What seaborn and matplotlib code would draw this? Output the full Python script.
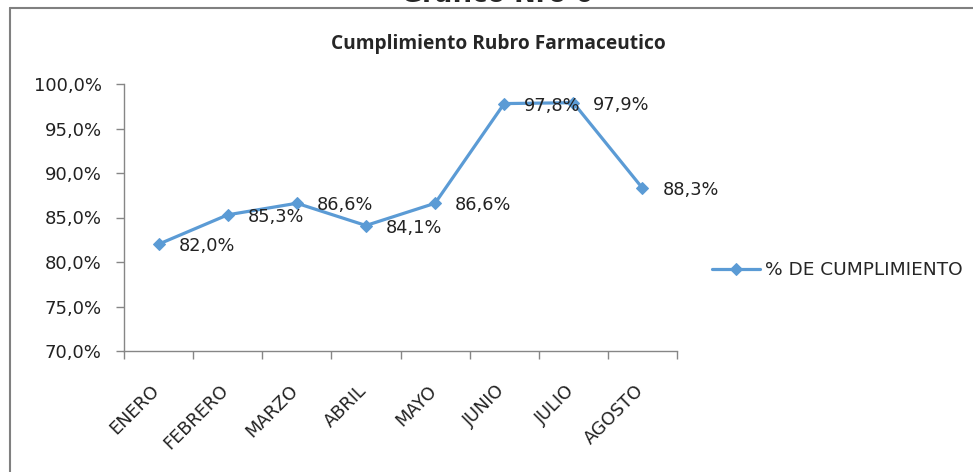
import numpy as np
import pandas as pd
import matplotlib
matplotlib.use("Agg")
import matplotlib.pyplot as plt
import matplotlib.transforms as mtransforms
from matplotlib.ticker import FuncFormatter, FixedLocator
from matplotlib.lines import Line2D
import seaborn as sns

# datos del grafico
meses = ["ENERO", "FEBRERO", "MARZO", "ABRIL", "MAYO", "JUNIO", "JULIO", "AGOSTO"]
cumplimiento = [82.0, 85.3, 86.6, 84.1, 86.6, 97.8, 97.9, 88.3]
serie = "% DE CUMPLIMIENTO"
titulo = "Cumplimiento Rubro Farmaceutico"
encabezado = "Gráfico Nro 6"

df = pd.DataFrame({"pos": np.arange(len(meses)), "valor": cumplimiento, "mes": meses})

sns.set_style("white")
plt.rcParams['font.family'] = ['DejaVu Sans']

azul = '#5b9bd5'
gris = '#868686'

fig = plt.figure(figsize=(9.73, 4.72), dpi=100)
ax = fig.add_axes([124/973, 1-351/472, (677-124)/973, (351-84)/472])

sns.lineplot(data=df, x="pos", y="valor", ax=ax, color=azul, linewidth=2.3,
             marker='D', markersize=6, markeredgecolor=azul, label=serie)

# etiquetas de datos
for x, v in zip(df["pos"], df["valor"]):
    ax.annotate(f"{v:.1f}%".replace('.', ','), (x, v), xytext=(20, -2),
                textcoords='offset pixels', ha='left', va='center',
                fontsize=12.8, color='#222222')

ax.set_ylim(70, 100)
ax.set_xlim(-0.5, len(meses) - 0.5)
ax.yaxis.set_major_locator(FixedLocator(np.arange(70, 100.1, 5)))
ax.yaxis.set_major_formatter(FuncFormatter(lambda v, p: f"{v:.1f}%".replace('.', ',')))
ax.tick_params(axis='y', labelsize=13, colors=gris, labelcolor='#222222',
               length=6, width=1, direction='out', left=True, pad=10)

# ticks del eje x entre categorias, etiquetas en el centro
ax.set_xticks(np.arange(-0.5, len(meses), 1))
ax.set_xticklabels([])
ax.set_xticks(df["pos"], minor=True)
ax.set_xticklabels(meses, minor=True, rotation=45, ha='right', rotation_mode='anchor',
                   fontsize=12.8)
ax.tick_params(axis='x', which='major', length=6, width=1, colors=gris, direction='out', bottom=True)
ax.tick_params(axis='x', which='minor', length=0, pad=22, labelcolor='#222222')
desplaza = mtransforms.ScaledTranslation(-8/100, 0, fig.dpi_scale_trans)
for lbl in ax.get_xticklabels(minor=True):
    lbl.set_transform(lbl.get_transform() + desplaza)
ax.set_xlabel('')
ax.set_ylabel('')

for s in ['top', 'right']:
    ax.spines[s].set_visible(False)
for s in ['left', 'bottom']:
    ax.spines[s].set_color(gris)
    ax.spines[s].set_linewidth(1)

ax.legend(loc='center left', bbox_to_anchor=(695/973, 1-270/472), bbox_transform=fig.transFigure,
          frameon=False, handlelength=2.6, handletextpad=0.3,
          prop={'family': ['DejaVu Sans'], 'size': 13.3})

fig.text(498/973, 1-44/472, titulo, ha='center', va='center', fontsize=13.8,
         fontweight='bold', family=['Open Sans', 'DejaVu Sans'])

# encabezado cortado en el borde superior
fig.text(497/973, 1-2/472, encabezado, ha='center', va='baseline', fontsize=18.5,
         fontweight='bold')

# marco
fig.add_artist(Line2D([10/973, 1], [1-8/472, 1-8/472], color='#808080', linewidth=1.5,
                      transform=fig.transFigure))
fig.add_artist(Line2D([10/973, 10/973], [0, 1-8/472], color='#808080', linewidth=1.5,
                      transform=fig.transFigure))

fig.savefig("out.png", dpi=100)
